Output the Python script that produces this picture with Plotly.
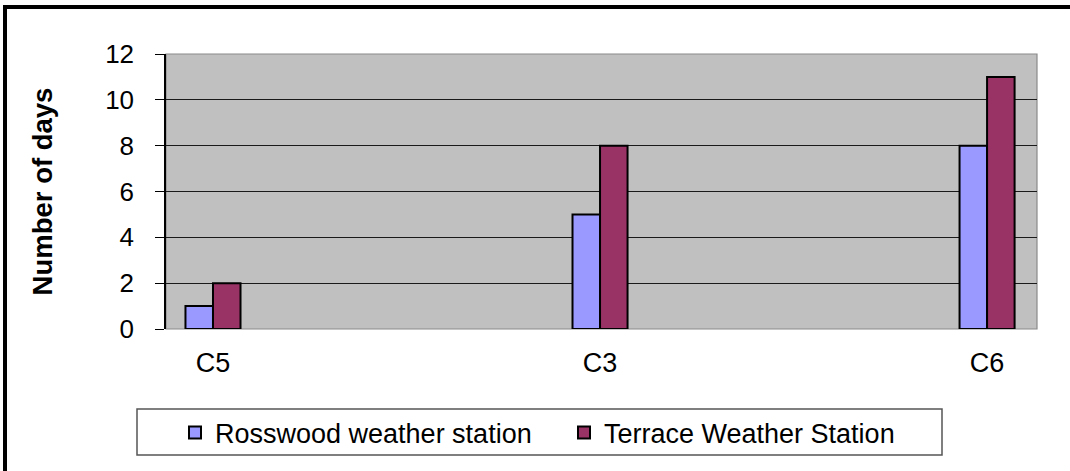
import plotly.graph_objects as go

categories = ["C5", "C3", "C6"]
rosswood = [1, 5, 8]
terrace = [2, 8, 11]
series_names = ["Rosswood weather station", "Terrace Weather Station"]
y_ticks = [0, 2, 4, 6, 8, 10, 12]

W, H = 1070, 471
L, R, T, B = 166, 33, 54, 142
pw, ph = W - L - R, H - T - B

def px_x(p):
    return (p - L) / pw

def px_y(p):
    return (H - B - p) / ph

bw = 0.0711
FONT = "Arial, Liberation Sans, sans-serif"

fig = go.Figure()
fig.add_trace(go.Bar(x=categories, y=rosswood, name=series_names[0], width=bw, offset=-bw,
                     marker=dict(color="#9999FF", line=dict(color="black", width=2))))
fig.add_trace(go.Bar(x=categories, y=terrace, name=series_names[1], width=bw, offset=0,
                     marker=dict(color="#993366", line=dict(color="black", width=2))))

shapes = [
    dict(type="rect", xref="paper", yref="paper", x0=0, x1=1, y0=0, y1=1,
         line=dict(color="#8a8a8a", width=1.2), layer="below"),
    dict(type="rect", xref="paper", yref="paper", x0=px_x(137), x1=px_x(942), y0=px_y(409), y1=px_y(455),
         line=dict(color="#555555", width=1.5)),
    dict(type="line", xref="paper", yref="paper", x0=px_x(3), x1=px_x(1080), y0=px_y(7), y1=px_y(7),
         line=dict(color="black", width=4)),
    dict(type="line", xref="paper", yref="paper", x0=px_x(5), x1=px_x(5), y0=px_y(5), y1=px_y(480),
         line=dict(color="black", width=4)),
]

fig.update_layout(
    width=W, height=H,
    margin=dict(l=L, r=R, t=T, b=B),
    paper_bgcolor="white", plot_bgcolor="#C0C0C0",
    font=dict(family=FONT, color="black", size=26),
    barmode="overlay",
    showlegend=True,
    legend=dict(orientation="h", x=px_x(175), y=px_y(433), xanchor="left", yanchor="middle",
                font=dict(size=27, family=FONT), entrywidth=344, bgcolor="rgba(0,0,0,0)",
                itemsizing="constant"),
    shapes=shapes,
    xaxis=dict(type="category", range=[-0.1214, 2.129], showgrid=False, showline=False,
               ticks="", tickfont=dict(size=27), ticklabelstandoff=15, zeroline=False),
    yaxis=dict(range=[0, 12], tickvals=y_ticks, showgrid=True, gridcolor="#1a1a1a", gridwidth=1,
               showline=True, linecolor="black", linewidth=1.5, ticks="outside", ticklen=9,
               tickcolor="black", tickfont=dict(size=26), ticklabelstandoff=16, zeroline=False,
               title=dict(text="<b>Number of days</b>", font=dict(size=27.5), standoff=45)),
)

fig.write_html("out.html", config={"displayModeBar": False},
               post_script="document.body.style.margin='0';document.body.style.overflow='hidden';")
